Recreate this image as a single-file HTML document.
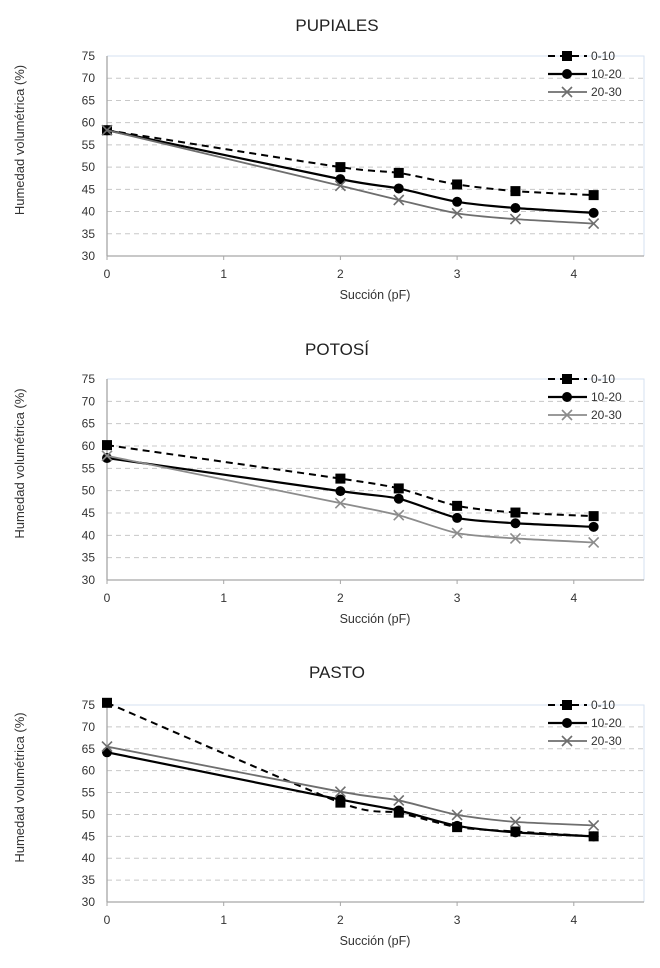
<!DOCTYPE html>
<html><head><meta charset="utf-8"><style>
body{margin:0;background:#fff;width:660px;height:968px;overflow:hidden}
svg{display:block;font-family:"Liberation Sans",sans-serif}
</style></head><body>
<svg id="c" width="660" height="968"></svg>
<script>
const suction=[0,2,2.5,3,3.5,4.17];
const seriesNames=["0-10","10-20","20-30"];
const yTicks=[30,35,40,45,50,55,60,65,70,75];
const xTicks=[0,1,2,3,4];
const pupiales010=[58.3,50,48.7,46.1,44.6,43.7];
const pupiales1020=[58.3,47.3,45.2,42.2,40.8,39.7];
const pupiales2030=[58.3,45.8,42.6,39.6,38.3,37.3];
const potosi010=[60.2,52.7,50.5,46.6,45.1,44.3];
const potosi1020=[57.3,49.9,48.2,43.9,42.7,41.9];
const potosi2030=[57.8,47.2,44.5,40.5,39.3,38.4];
const pasto010=[75.5,52.7,50.4,47.1,46.1,45];
const pasto1020=[64.2,53.4,50.9,47.4,45.9,45];
const pasto2030=[65.5,55.2,53.2,49.9,48.3,47.5];

const NS="http://www.w3.org/2000/svg";
const svg=document.getElementById('c');
function mk(tag,attrs,parent){const e=document.createElementNS(NS,tag);for(const k in attrs)e.setAttribute(k,attrs[k]);(parent||svg).appendChild(e);return e;}
function txt(s,attrs,parent){const e=mk('text',attrs,parent);e.textContent=s;return e;}

const charts=[
 {title:"PUPIALES",slug:"pupiales",top:56,bot:256,titleY:31,gray:"#6e6e6e",data:[pupiales010,pupiales1020,pupiales2030]},
 {title:"POTOSÍ",slug:"potosi",top:379,bot:580,titleY:355,gray:"#8c8c8c",data:[potosi010,potosi1020,potosi2030]},
 {title:"PASTO",slug:"pasto",top:705,bot:902,titleY:678,gray:"#6e6e6e",data:[pasto010,pasto1020,pasto2030]}
];
const X0=107,XU=116.7,XR=644;

function smoothPath(pts){
 let d=`M${pts[0][0]},${pts[0][1]}`;
 for(let i=0;i<pts.length-1;i++){
  const p0=pts[i-1]||pts[i],p1=pts[i],p2=pts[i+1],p3=pts[i+2]||p2;
  const t=0.12;
  const c1=[p1[0]+(p2[0]-p0[0])*t,p1[1]+(p2[1]-p0[1])*t];
  const c2=[p2[0]-(p3[0]-p1[0])*t,p2[1]-(p3[1]-p1[1])*t];
  d+=` C${c1[0]},${c1[1]} ${c2[0]},${c2[1]} ${p2[0]},${p2[1]}`;
 }
 return d;
}
function marker(kind,x,y,g,color){
 if(kind===0){const m=mk('rect',{x:x-5,y:y-5,width:10,height:10,fill:'#000'},g);}
 else if(kind===1){const m=mk('circle',{cx:x,cy:y,r:5,fill:'#000'},g);}
 else{const m=mk('path',{d:`M${x-5},${y-5}L${x+5},${y+5}M${x-5},${y+5}L${x+5},${y-5}`,stroke:color,'stroke-width':1.6,fill:'none'},g);}
}

charts.forEach(ch=>{
 const g=mk('g',{});
 
 
 const ys=v=>ch.bot-(v-30)/45*(ch.bot-ch.top);
 const xs=v=>X0+v*XU;
 const t=txt(ch.title,{x:337,y:ch.titleY,'text-anchor':'middle','font-size':17,fill:'#222'},g);
 
 mk('path',{d:`M${X0},${ch.top}H${XR}V${ch.bot}`,stroke:'#d6e2f0',fill:'none','stroke-width':1},g);
 yTicks.forEach(v=>{
  if(v>30&&v<75){const l=mk('line',{x1:X0,x2:XR,y1:ys(v),y2:ys(v),stroke:'#c8c8c8','stroke-dasharray':'5,4','stroke-width':1},g);}
  const tl=txt(String(v),{x:95,y:ys(v)+4,'text-anchor':'end','font-size':12,fill:'#333'},g);
  
 });
 mk('line',{x1:X0,x2:X0,y1:ch.top,y2:ch.bot,stroke:'#a6a6a6','stroke-width':1.3},g);
 mk('line',{x1:X0,x2:XR,y1:ch.bot,y2:ch.bot,stroke:'#a6a6a6','stroke-width':1.3},g);
 xTicks.forEach(v=>{
  mk('line',{x1:xs(v),x2:xs(v),y1:ch.bot,y2:ch.bot+4,stroke:'#a6a6a6'},g);
  const tl=txt(String(v),{x:xs(v),y:ch.bot+22,'text-anchor':'middle','font-size':12,fill:'#333'},g);
  
 });
 const xt=txt("Succión (pF)",{x:375,y:ch.bot+43,'text-anchor':'middle','font-size':12.5,fill:'#333'},g);
 
 const cy=(ch.top+ch.bot)/2-16;
 const yt=txt("Humedad volumétrica (%)",{x:0,y:0,transform:`translate(24,${cy}) rotate(-90)`,'text-anchor':'middle','font-size':13,fill:'#333'},g);
 
 const styles=[{c:'#000',w:2,dash:'7,5'},{c:'#000',w:2.2,dash:''},{c:ch.gray,w:1.8,dash:''}];
 ch.data.forEach((arr,si)=>{
  const sg=mk('g',{},g);
  
  
  const pts=arr.map((v,i)=>[xs(suction[i]),ys(v)]);
  const st=styles[si];
  const p=mk('path',{d:smoothPath(pts),stroke:st.c,'stroke-width':st.w,fill:'none'},sg);
  if(st.dash)p.setAttribute('stroke-dasharray',st.dash);
  pts.forEach(pt=>marker(si,pt[0],pt[1],sg,st.c));
  const ly=ch.top+si*18;
  const lg=mk('g',{},g);
  
  
  const ll=mk('line',{x1:548,x2:587,y1:ly,y2:ly,stroke:st.c,'stroke-width':st.w},lg);
  if(st.dash)ll.setAttribute('stroke-dasharray','7,5');
  marker(si,567,ly,lg,st.c);
  txt(seriesNames[si],{x:591,y:ly+4,'font-size':12,fill:'#333'},lg);
 });
});
</script>
</body></html>
